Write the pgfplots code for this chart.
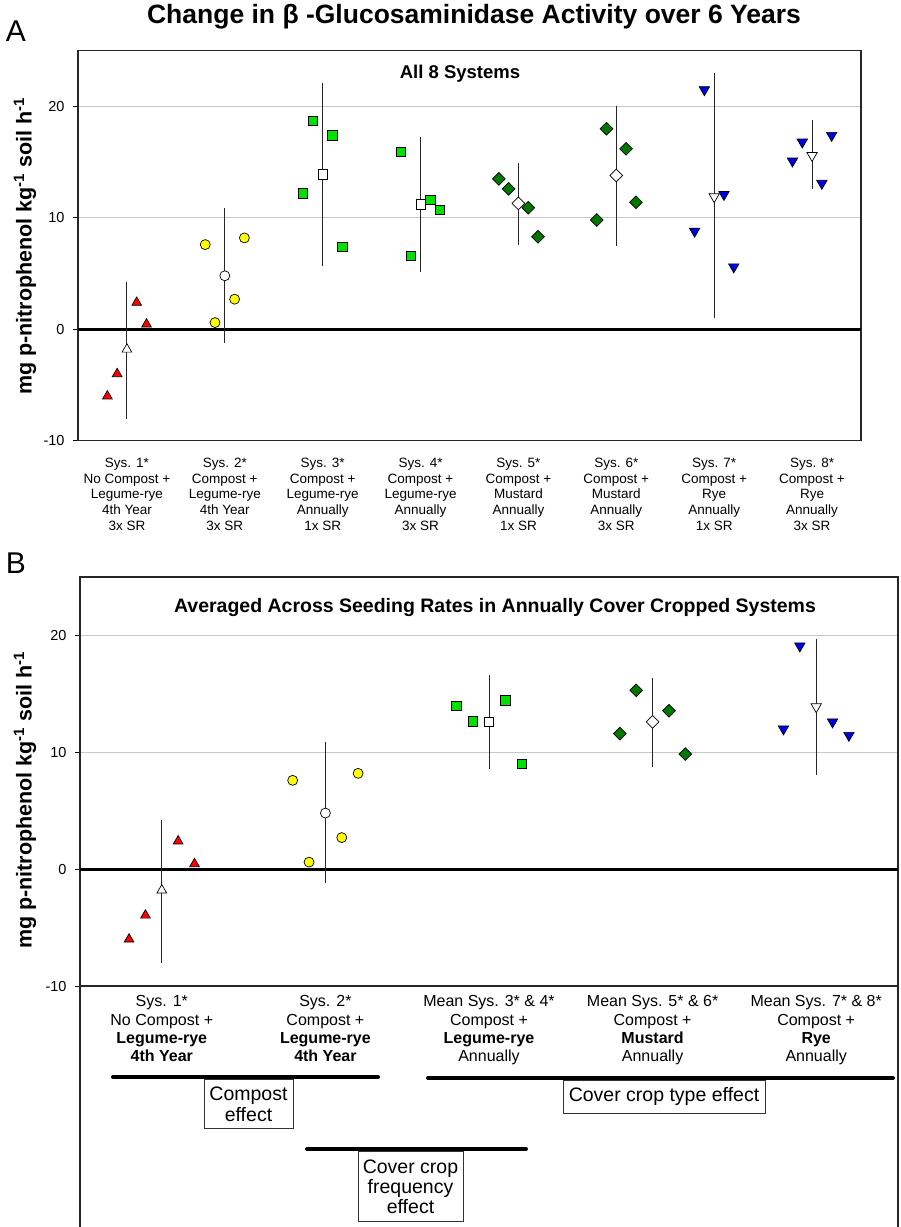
\documentclass[border=0pt]{standalone}
\usepackage{fontspec}
\setmainfont{Liberation Sans}
\usepackage{pgfplots}
\pgfplotsset{compat=1.18}
\definecolor{redm}{RGB}{255,0,0}
\definecolor{yelm}{RGB}{255,255,0}
\definecolor{grnm}{RGB}{0,225,0}
\definecolor{dgrm}{RGB}{0,120,0}
\definecolor{blum}{RGB}{0,0,230}

\pgfplotsset{
  panel/.style={
    scale only axis,
    axis line style={black!85, line width=1.2pt},
    ymin=-10, ymax=25,
    ytick={-10,0,10,20}, yticklabels={-10,0,10,20},
    ytick pos=left, tick align=outside,
    major tick length=5pt,
    ytick style={black, line width=0.8pt},
    xtick style={draw=none},
    ymajorgrids, grid style={black!22, line width=0.8pt},
    yticklabel style={font=\fontsize{14.5}{17}\selectfont, xshift=-5pt},
    xticklabel style={align=center},
  },
  % individual replicate points: fill colour, rotation
  pts/.style 2 args={only marks,
    mark options={draw=black, line width=0.7pt, fill=#1, rotate=#2}},
  % system means with error bars: rotation
  avg/.style={only marks,
    mark options={draw=black, fill=white, line width=0.7pt, rotate=#1},
    error bars/y dir=both, error bars/y explicit, error bars/error mark=none,
    error bars/error bar style={black!85, line width=1pt}},
}

\begin{document}
\begin{tikzpicture}
\useasboundingbox (0pt,0pt) rectangle (901pt,-1227pt);

% ---------------- panel A ----------------
\begin{axis}[panel,
  at={(78pt,-440.7pt)}, anchor=south west,
  width=783pt, height=390pt,
  xmin=0.5, xmax=8.5,
  xtick={1,...,8},
  xticklabel style={font=\fontsize{13.5}{15.6}\selectfont, yshift=-9pt},
  xticklabels={
    {Sys. 1*\\No Compost +\\Legume-rye\\4th Year\\3x SR},
    {Sys. 2*\\Compost +\\Legume-rye\\4th Year\\3x SR},
    {Sys. 3*\\Compost +\\Legume-rye\\Annually\\1x SR},
    {Sys. 4*\\Compost +\\Legume-rye\\Annually\\3x SR},
    {Sys. 5*\\Compost +\\Mustard\\Annually\\1x SR},
    {Sys. 6*\\Compost +\\Mustard\\Annually\\3x SR},
    {Sys. 7*\\Compost +\\Rye\\Annually\\1x SR},
    {Sys. 8*\\Compost +\\Rye\\Annually\\3x SR}},
]
\addplot[black, line width=3pt, mark=none, forget plot] coordinates {(0.5,0) (8.5,0)};

\addplot[pts={redm}{0}, mark=triangle*, mark size=5.6pt]
  coordinates {(0.8,-6.0) (0.9,-4.0) (1.1,2.4) (1.2,0.45)};
\addplot[pts={yelm}{0}, mark=*, mark size=5pt]
  coordinates {(1.8,7.6) (1.9,0.6) (2.1,2.7) (2.2,8.2)};
\addplot[pts={grnm}{0}, mark=square*, mark size=4.7pt]
  coordinates {(2.8,12.2) (2.9,18.7) (3.1,17.4) (3.2,7.4)
               (3.8,15.9) (3.9,6.6) (4.1,11.6) (4.2,10.7)};
\addplot[pts={dgrm}{45}, mark=square*, mark size=4.5pt]
  coordinates {(4.8,13.5) (4.9,12.6) (5.1,10.9) (5.2,8.3)
               (5.8,9.8) (5.9,18.0) (6.1,16.2) (6.2,11.4)};
\addplot[pts={blum}{180}, mark=triangle*, mark size=6pt]
  coordinates {(6.8,8.8) (6.9,21.5) (7.1,12.1) (7.2,5.6)
               (7.8,15.1) (7.9,16.8) (8.1,13.1) (8.2,17.4)};

\addplot[avg=0, mark=triangle*, mark size=5.6pt]
  coordinates {(1,-1.8) += (0,6.0) -= (0,6.25)};
\addplot[avg=0, mark=*, mark size=5pt]
  coordinates {(2,4.8) += (0,6.1) -= (0,6.0)};
\addplot[avg=0, mark=square*, mark size=4.7pt]
  coordinates {(3,13.9) += (0,8.2) -= (0,8.2) (4,11.2) += (0,6.1) -= (0,6.1)};
\addplot[avg=45, mark=square*, mark size=4.5pt]
  coordinates {(5,11.3) += (0,3.6) -= (0,3.7) (6,13.8) += (0,6.2) -= (0,6.3)};
\addplot[avg=180, mark=triangle*, mark size=6pt]
  coordinates {(7,11.9) += (0,11.1) -= (0,10.9) (8,15.6) += (0,3.2) -= (0,3.0)};
\end{axis}

% ---------------- panel B ----------------
\begin{axis}[panel,
  at={(80pt,-986pt)}, anchor=south west,
  width=818pt, height=409pt,
  xmin=0.5, xmax=5.5,
  xtick={1,...,5},
  xticklabel style={font=\fontsize{16}{18.4}\selectfont, yshift=-1pt},
  xticklabels={
    {Sys. 1*\\No Compost +\\\textbf{Legume-rye}\\\textbf{4th Year}},
    {Sys. 2*\\Compost +\\\textbf{Legume-rye}\\\textbf{4th Year}},
    {Mean Sys. 3* \& 4*\\Compost +\\\textbf{Legume-rye}\\Annually},
    {Mean Sys. 5* \& 6*\\Compost +\\\textbf{Mustard}\\Annually},
    {Mean Sys. 7* \& 8*\\Compost +\\\textbf{Rye}\\Annually}},
]
\addplot[black, line width=3pt, mark=none, forget plot] coordinates {(0.5,0) (5.5,0)};

\addplot[pts={redm}{0}, mark=triangle*, mark size=5.6pt]
  coordinates {(0.8,-6.0) (0.9,-3.95) (1.1,2.4) (1.2,0.45)};
\addplot[pts={yelm}{0}, mark=*, mark size=5pt]
  coordinates {(1.8,7.6) (1.9,0.6) (2.1,2.7) (2.2,8.2)};
\addplot[pts={grnm}{0}, mark=square*, mark size=4.7pt]
  coordinates {(2.8,14.0) (2.9,12.65) (3.1,14.45) (3.2,9.0)};
\addplot[pts={dgrm}{45}, mark=square*, mark size=4.5pt]
  coordinates {(3.8,11.6) (3.9,15.3) (4.1,13.55) (4.2,9.85)};
\addplot[pts={blum}{180}, mark=triangle*, mark size=6pt]
  coordinates {(4.8,12.0) (4.9,19.1) (5.1,12.6) (5.2,11.45)};

\addplot[avg=0, mark=triangle*, mark size=5.6pt]
  coordinates {(1,-1.8) += (0,6.0) -= (0,6.2)};
\addplot[avg=0, mark=*, mark size=5pt]
  coordinates {(2,4.8) += (0,6.1) -= (0,6.0)};
\addplot[avg=0, mark=square*, mark size=4.7pt]
  coordinates {(3,12.6) += (0,4.0) -= (0,4.05)};
\addplot[avg=45, mark=square*, mark size=4.5pt]
  coordinates {(4,12.6) += (0,3.8) -= (0,3.85)};
\addplot[avg=180, mark=triangle*, mark size=6pt]
  coordinates {(5,13.9) += (0,5.8) -= (0,5.8)};
\end{axis}

% ---------------- titles and labels ----------------
\node[font=\bfseries\fontsize{26.5}{30}\selectfont] at (474pt,-17pt)
  {Change in β -Glucosaminidase Activity over 6 Years};
\node[font=\fontsize{30}{34}\selectfont] at (16pt,-31pt) {A};
\node[font=\fontsize{30}{34}\selectfont] at (16pt,-563pt) {B};
\node[font=\bfseries\fontsize{18.5}{21}\selectfont] at (460pt,-74pt) {All 8 Systems};
\node[font=\bfseries\fontsize{19.5}{22}\selectfont] at (495pt,-607pt)
  {Averaged Across Seeding Rates in Annually Cover Cropped Systems};
\node[rotate=90, font=\bfseries\fontsize{21.5}{25}\selectfont] at (25pt,-246pt)
  {mg p-nitrophenol kg\textsuperscript{-1} soil h\textsuperscript{-1}};
\node[rotate=90, font=\bfseries\fontsize{21.5}{25}\selectfont] at (25pt,-800pt)
  {mg p-nitrophenol kg\textsuperscript{-1} soil h\textsuperscript{-1}};

% frame of panel B continued below the axis
\draw[black!85, line width=1.2pt] (80pt,-986pt) -- (80pt,-1230pt);
\draw[black!85, line width=1.2pt] (898pt,-986pt) -- (898pt,-1230pt);

% ---------------- effect annotations ----------------
\draw[line width=4pt, line cap=round] (113pt,-1077pt) -- (378pt,-1077pt);
\draw[line width=4pt, line cap=round] (428pt,-1078pt) -- (893pt,-1078pt);
\draw[line width=4pt, line cap=round] (307pt,-1149pt) -- (526pt,-1149pt);
\node[draw=black!80, line width=0.8pt, fill=white, anchor=north, align=center,
  minimum width=89pt, minimum height=49pt, inner sep=0pt,
  font=\fontsize{19.5}{21}\selectfont] at (248.5pt,-1079pt) {Compost\\effect};
\node[draw=black!80, line width=0.8pt, fill=white, anchor=north, align=center,
  minimum width=202pt, minimum height=33pt, inner sep=0pt,
  font=\fontsize{19.5}{21}\selectfont] at (664pt,-1080pt) {Cover crop type effect};
\node[draw=black!80, line width=0.8pt, fill=white, anchor=north, align=center,
  minimum width=105pt, minimum height=70pt, inner sep=0pt,
  font=\fontsize{19.5}{20}\selectfont] at (410.5pt,-1151pt) {Cover crop\\frequency\\effect};
\end{tikzpicture}
\end{document}
